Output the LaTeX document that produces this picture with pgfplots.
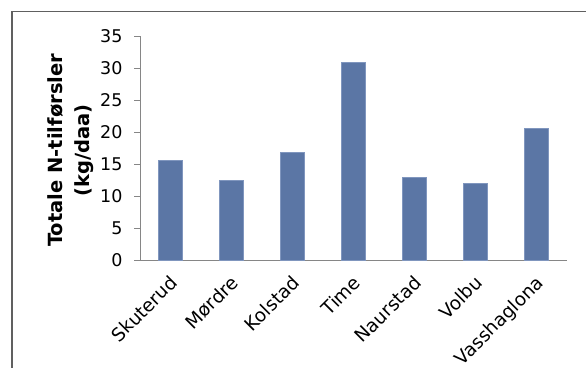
\documentclass[border=0pt]{standalone}
\usepackage{fontspec}
\setmainfont{DejaVu Sans}
\usepackage{pgfplots}
\pgfplotsset{compat=1.18}
\definecolor{barblue}{RGB}{91,118,165}
\definecolor{baredge}{RGB}{128,150,190}
\definecolor{axisgray}{RGB}{134,134,134}
\definecolor{framegray}{RGB}{96,96,96}

\begin{document}
\begin{tikzpicture}[x=1bp,y=1bp]
\useasboundingbox (0,0) rectangle (586,367);
% chart area border (open towards the right and the bottom)
\draw[framegray, line width=1.6bp] (11.8,-20) -- (11.8,355.4) -- (620,355.4);
\begin{axis}[
  at={(140bp,107bp)}, anchor=south west,
  scale only axis, width=427bp, height=224bp,
  xmin=-0.5, xmax=6.5, ymin=0, ymax=35,
  separate axis lines,
  axis x line*=bottom, axis y line*=left,
  axis line style={-, draw=axisgray, line width=0.9bp},
  xtick={0,...,6},
  xticklabels={Skuterud,Mørdre,Kolstad,Time,Naurstad,Volbu,Vasshaglona},
  ytick={0,5,...,35},
  tick align=outside,
  major tick length=6bp,
  x tick style={draw=none},
  y tick style={draw=axisgray, line width=0.8bp},
  /pgf/number format/assume math mode=true,
  yticklabel style={font=\fontsize{17.5bp}{19bp}\selectfont, xshift=-8bp},
  xticklabel style={font=\fontsize{18.5bp}{20bp}\selectfont,
    xshift=-2bp, yshift=-8bp, rotate=45, anchor=north east, inner sep=0bp},
  every axis y label/.style={at={(axis description cs:-0.163,0.49)},
    anchor=center, rotate=90, align=center,
    font=\bfseries\fontsize{19.5bp}{27bp}\selectfont},
  ylabel={Totale N-tilførsler\\(kg/daa)},
]
\addplot[ybar, bar width=24bp, fill=barblue, draw=baredge, line width=0.6bp]
  coordinates {(0,15.6) (1,12.5) (2,16.8) (3,30.9) (4,12.9) (5,12.0) (6,20.6)};
\end{axis}
\end{tikzpicture}
\end{document}
